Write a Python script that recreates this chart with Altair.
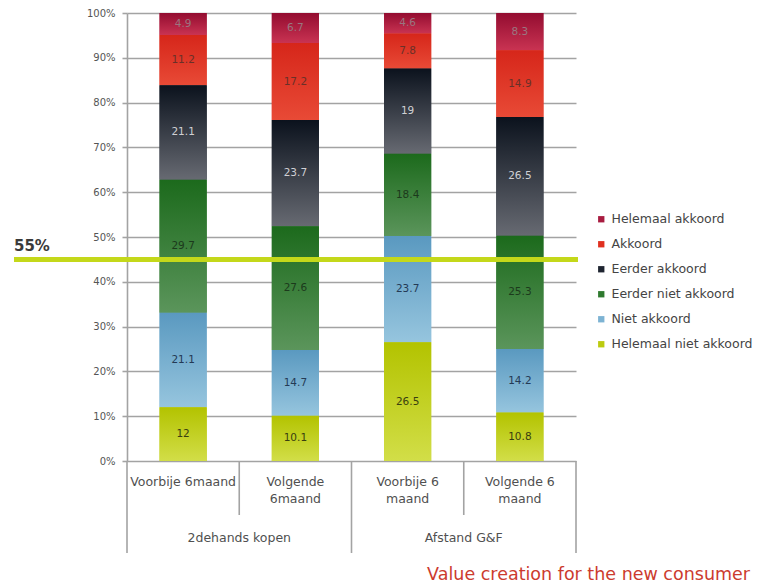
import altair as alt
import pandas as pd

# Bars (inner axis level) and the group each bar belongs to (outer axis level)
categories = ["Voorbije 6maand", "Volgende\n6maand", "Voorbije 6\nmaand", "Volgende 6\nmaand"]
groups = ["2dehands kopen", "2dehands kopen", "Afstand G&F", "Afstand G&F"]

# Answer categories, listed top of the stack first
series = [
    "Helemaal akkoord",
    "Akkoord",
    "Eerder akkoord",
    "Eerder niet akkoord",
    "Niet akkoord",
    "Helemaal niet akkoord",
]

# Share of respondents (%) per bar
helemaal_akkoord = [4.9, 6.7, 4.6, 8.3]
akkoord = [11.2, 17.2, 7.8, 14.9]
eerder_akkoord = [21.1, 23.7, 19, 26.5]
eerder_niet_akkoord = [29.7, 27.6, 18.4, 25.3]
niet_akkoord = [21.1, 14.7, 23.7, 14.2]
helemaal_niet_akkoord = [12, 10.1, 26.5, 10.8]

# Reference level marked across the chart (measured from the top)
threshold_share = [55]

footer = "Value creation for the new consumer"

values_by_series = [
    helemaal_akkoord,
    akkoord,
    eerder_akkoord,
    eerder_niet_akkoord,
    niet_akkoord,
    helemaal_niet_akkoord,
]

# Legend swatch colours and top/bottom shading of each segment
flat_colors = ["#a81c40", "#e0301f", "#1e2430", "#2f7a2f", "#7db3d3", "#bccb10"]
shades = {
    "Helemaal akkoord": ("#930c30", "#c93352"),
    "Akkoord": ("#d6261a", "#e84a36"),
    "Eerder akkoord": ("#0b121d", "#676a72"),
    "Eerder niet akkoord": ("#1c6a1c", "#5b955b"),
    "Niet akkoord": ("#5a99c0", "#96c5de"),
    "Helemaal niet akkoord": ("#b3c300", "#d2de48"),
}
text_colors = {
    "Helemaal akkoord": "#9a7680",
    "Akkoord": "#6a3028",
    "Eerder akkoord": "#d0d0d4",
    "Eerder niet akkoord": "#1c3a1c",
    "Niet akkoord": "#243a55",
    "Helemaal niet akkoord": "#3a3f10",
}

rows = []
for si, (name, vals) in enumerate(zip(series, values_by_series)):
    for ci, cat in enumerate(categories):
        rows.append(
            dict(
                cat=cat,
                series=name,
                value=vals[ci],
                rank=len(series) - 1 - si,
                label=f"{vals[ci]:g}",
                tcolor=text_colors[name],
            )
        )
df = pd.DataFrame(rows)

W, H = 449, 448
FONT = "DejaVu Sans"
GRID = "#a3a3a3"

x_band = alt.X(
    "cat:N",
    sort=categories,
    axis=None,
    scale=alt.Scale(paddingInner=0.58, paddingOuter=0.29),
)
y_scale = alt.Scale(domain=[0, 100], nice=False)

base = alt.Chart(df).transform_stack(
    stack="value",
    groupby=["cat"],
    as_=["y0", "y1"],
    sort=[alt.SortField("rank", order="ascending")],
)

flat = base.mark_bar().encode(
    x=x_band,
    y=alt.Y(
        "y0:Q",
        scale=y_scale,
        title=None,
        axis=alt.Axis(
            values=list(range(0, 101, 10)),
            labelExpr="datum.value + '%'",
            grid=True,
            gridColor=GRID,
            gridWidth=1.6,
            domainColor=GRID,
            domainWidth=1.6,
            tickColor=GRID,
            tickWidth=1.6,
            tickSize=5,
            labelFont=FONT,
            labelFontSize=10,
            labelColor="#555555",
            labelPadding=7,
            title=None,
        ),
    ),
    y2="y1:Q",
    color=alt.Color(
        "series:N",
        scale=alt.Scale(domain=series, range=flat_colors),
        legend=alt.Legend(
            title=None,
            orient="none",
            legendX=468,
            legendY=200,
            symbolType="square",
            symbolSize=40,
            symbolStrokeWidth=0,
            labelFont=FONT,
            labelFontSize=12.5,
            labelColor="#444444",
            labelOffset=4,
            rowPadding=12,
        ),
    ),
)

shaded = [
    base.transform_filter(alt.datum.series == name)
    .mark_bar(
        fill=alt.Gradient(
            gradient="linear",
            stops=[
                alt.GradientStop(color=top, offset=0),
                alt.GradientStop(color=bottom, offset=1),
            ],
            x1=0,
            x2=0,
            y1=0,
            y2=1,
        )
    )
    .encode(x=x_band, y=alt.Y("y0:Q", scale=y_scale, title=None), y2="y1:Q")
    for name, (top, bottom) in shades.items()
]

value_text = (
    base.transform_calculate(mid="(datum.y0 + datum.y1) / 2")
    .mark_text(font=FONT, fontSize=10.5)
    .encode(
        x=x_band,
        y=alt.Y("mid:Q", scale=y_scale, title=None),
        text="label:N",
        color=alt.Color("tcolor:N", scale=None),
    )
)

# Threshold line with its label
thr = alt.Chart(pd.DataFrame({"share": threshold_share})).transform_calculate(
    level="100 - datum.share", txt="datum.share + '%'"
)
thr_line = thr.mark_rule(color="#c4d81a", strokeWidth=5).encode(
    y=alt.Y("level:Q", scale=y_scale, title=None),
    x=alt.value(-113),
    x2=alt.value(451),
)
thr_text = thr.mark_text(
    align="left",
    baseline="bottom",
    dy=-5,
    font=FONT,
    fontSize=15,
    fontWeight="bold",
    color="#3a3a3a",
).encode(
    y=alt.Y("level:Q", scale=y_scale, title=None),
    x=alt.value(-113),
    text="txt:N",
)

# Two-level category axis below the plot
pos_scale = alt.Scale(domain=[0, len(categories)], nice=False, zero=True)
cat_df = pd.DataFrame({"cat": categories, "pos": [i + 0.5 for i in range(len(categories))]})
cat_text = (
    alt.Chart(cat_df)
    .mark_text(
        baseline="top", lineBreak="\n", lineHeight=17, font=FONT, fontSize=12.5, color="#505050"
    )
    .encode(x=alt.X("pos:Q", scale=pos_scale, axis=None), y=alt.value(H + 15), text="cat:N")
)

group_names = list(dict.fromkeys(groups))
group_edges = [0]
for gi in range(1, len(groups)):
    if groups[gi] != groups[gi - 1]:
        group_edges.append(gi)
group_edges.append(len(groups))
group_df = pd.DataFrame(
    {
        "grp": group_names,
        "pos": [(group_edges[i] + group_edges[i + 1]) / 2 for i in range(len(group_names))],
    }
)
group_text = (
    alt.Chart(group_df)
    .mark_text(baseline="middle", font=FONT, fontSize=12.5, color="#505050")
    .encode(x=alt.X("pos:Q", scale=pos_scale, axis=None), y=alt.value(H + 77), text="grp:N")
)

inner_edges = [i for i in range(1, len(categories)) if i not in group_edges]
long_sep = (
    alt.Chart(pd.DataFrame({"pos": group_edges}))
    .mark_rule(color=GRID, strokeWidth=1.6)
    .encode(x=alt.X("pos:Q", scale=pos_scale, axis=None), y=alt.value(H), y2=alt.value(H + 92))
)
short_sep = (
    alt.Chart(pd.DataFrame({"pos": inner_edges}))
    .mark_rule(color=GRID, strokeWidth=1.6)
    .encode(x=alt.X("pos:Q", scale=pos_scale, axis=None), y=alt.value(H), y2=alt.value(H + 54))
)

footer_text = (
    alt.Chart(pd.DataFrame({"t": [footer]}))
    .mark_text(align="right", baseline="middle", font=FONT, fontSize=17.5, color="#cc3b2e")
    .encode(x=alt.value(623), y=alt.value(H + 114), text="t:N")
)

chart = (
    alt.layer(
        flat,
        *shaded,
        value_text,
        thr_line,
        thr_text,
        long_sep,
        short_sep,
        cat_text,
        group_text,
        footer_text,
    )
    .resolve_scale(x="independent")
    .properties(
        width=W,
        height=H,
        autosize=alt.AutoSizeParams(type="none"),
        padding={"left": 127, "top": 13, "right": 184, "bottom": 123},
        background="white",
    )
    .configure_view(stroke=None)
)

chart.save("out.html", embed_options={"renderer": "svg", "actions": False})
